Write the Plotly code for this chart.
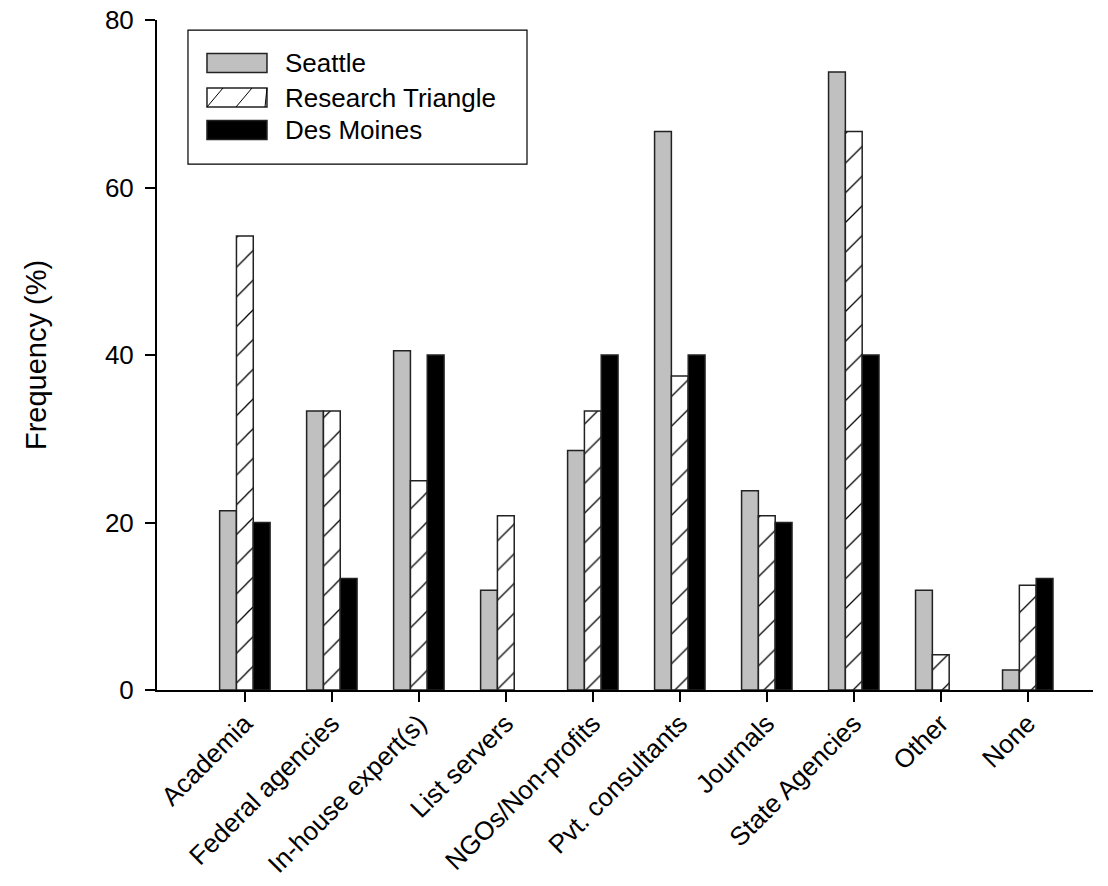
import plotly.graph_objects as go

categories = ["Academia", "Federal agencies", "In-house expert(s)", "List servers",
              "NGOs/Non-profits", "Pvt. consultants", "Journals", "State Agencies",
              "Other", "None"]
seattle = [21.4, 33.3, 40.5, 11.9, 28.6, 66.7, 23.8, 73.8, 11.9, 2.4]
research_triangle = [54.2, 33.3, 25.0, 20.8, 33.3, 37.5, 20.8, 66.7, 4.2, 12.5]
des_moines = [20.0, 13.3, 40.0, 0.0, 40.0, 40.0, 20.0, 40.0, 0.0, 13.3]
y_ticks = [0, 20, 40, 60, 80]
series_names = ["Seattle", "Research Triangle", "Des Moines"]

FONT = "Liberation Sans, Arial, sans-serif"


def outline(vals):
    return dict(color="#222222", width=[1.5 if v > 0 else 0 for v in vals])


fig = go.Figure()
fig.add_bar(x=categories, y=seattle, name=series_names[0],
            marker=dict(color="#c0c0c0", line=outline(seattle)))
fig.add_bar(x=categories, y=research_triangle, name=series_names[1],
            marker=dict(color="white", line=outline(research_triangle),
                        pattern=dict(shape="/", size=21, solidity=0.06,
                                     fgcolor="black", bgcolor="white", fillmode="replace")))
fig.add_bar(x=categories, y=des_moines, name=series_names[2],
            marker=dict(color="black", line=outline(des_moines)))

# Manual legend (paper coordinates)
shapes = []
annotations = []
shapes.append(dict(type="rect", xref="paper", yref="paper",
                   x0=0.0331, x1=0.3953, y0=0.785, y1=0.985,
                   line=dict(color="black", width=1.2), fillcolor="white", layer="above"))
row_y = [0.9358, 0.8843, 0.8358]
sw_x0, sw_x1 = 0.0534, 0.1175
sw_h = 0.0142
fills = ["#c0c0c0", "white", "black"]
for i, name in enumerate(series_names):
    yc = row_y[i]
    shapes.append(dict(type="rect", xref="paper", yref="paper",
                       x0=sw_x0, x1=sw_x1, y0=yc - sw_h, y1=yc + sw_h,
                       line=dict(color="#222222", width=1.5), fillcolor=fills[i], layer="above"))
    annotations.append(dict(xref="paper", yref="paper", x=0.1346, y=yc, text=name,
                            showarrow=False, xanchor="left", yanchor="middle",
                            font=dict(family=FONT, size=26, color="black")))
# hatch lines in the Research Triangle swatch
yc = row_y[1]
for k in range(3):
    xs = sw_x0 + k * 0.031
    shapes.append(dict(type="line", xref="paper", yref="paper",
                       x0=xs, x1=min(xs + 0.0171, sw_x1), y0=yc - sw_h, y1=yc + sw_h,
                       line=dict(color="black", width=1), layer="above"))

fig.update_layout(
    width=1108, height=886,
    margin=dict(l=157, r=15, t=20, b=196),
    paper_bgcolor="white", plot_bgcolor="white",
    barmode="group", bargap=0.42, bargroupgap=0.0,
    showlegend=False,
    font=dict(family=FONT, size=26, color="black"),
    shapes=shapes, annotations=annotations,
    xaxis=dict(range=[-1.01, 9.75], showline=True, linecolor="black", linewidth=2,
               ticks="outside", ticklen=10, tickwidth=2, tickcolor="black",
               ticklabelstandoff=-4,
               tickangle=-45, tickfont=dict(size=26), showgrid=False, zeroline=False,
               automargin=False),
    yaxis=dict(range=[0, 80], tickvals=y_ticks, showline=True, linecolor="black", linewidth=2,
               ticks="outside", ticklen=10, tickwidth=2, tickcolor="black",
               ticklabelstandoff=6, ticklabeloverflow="allow", automargin=False,
               tickfont=dict(size=26), showgrid=False, zeroline=False,
               title=dict(text="Frequency (%)", font=dict(size=29), standoff=50)),
)

fig.write_html("out.html", config={"displayModeBar": False},
               post_script="document.body.style.margin='0';")
